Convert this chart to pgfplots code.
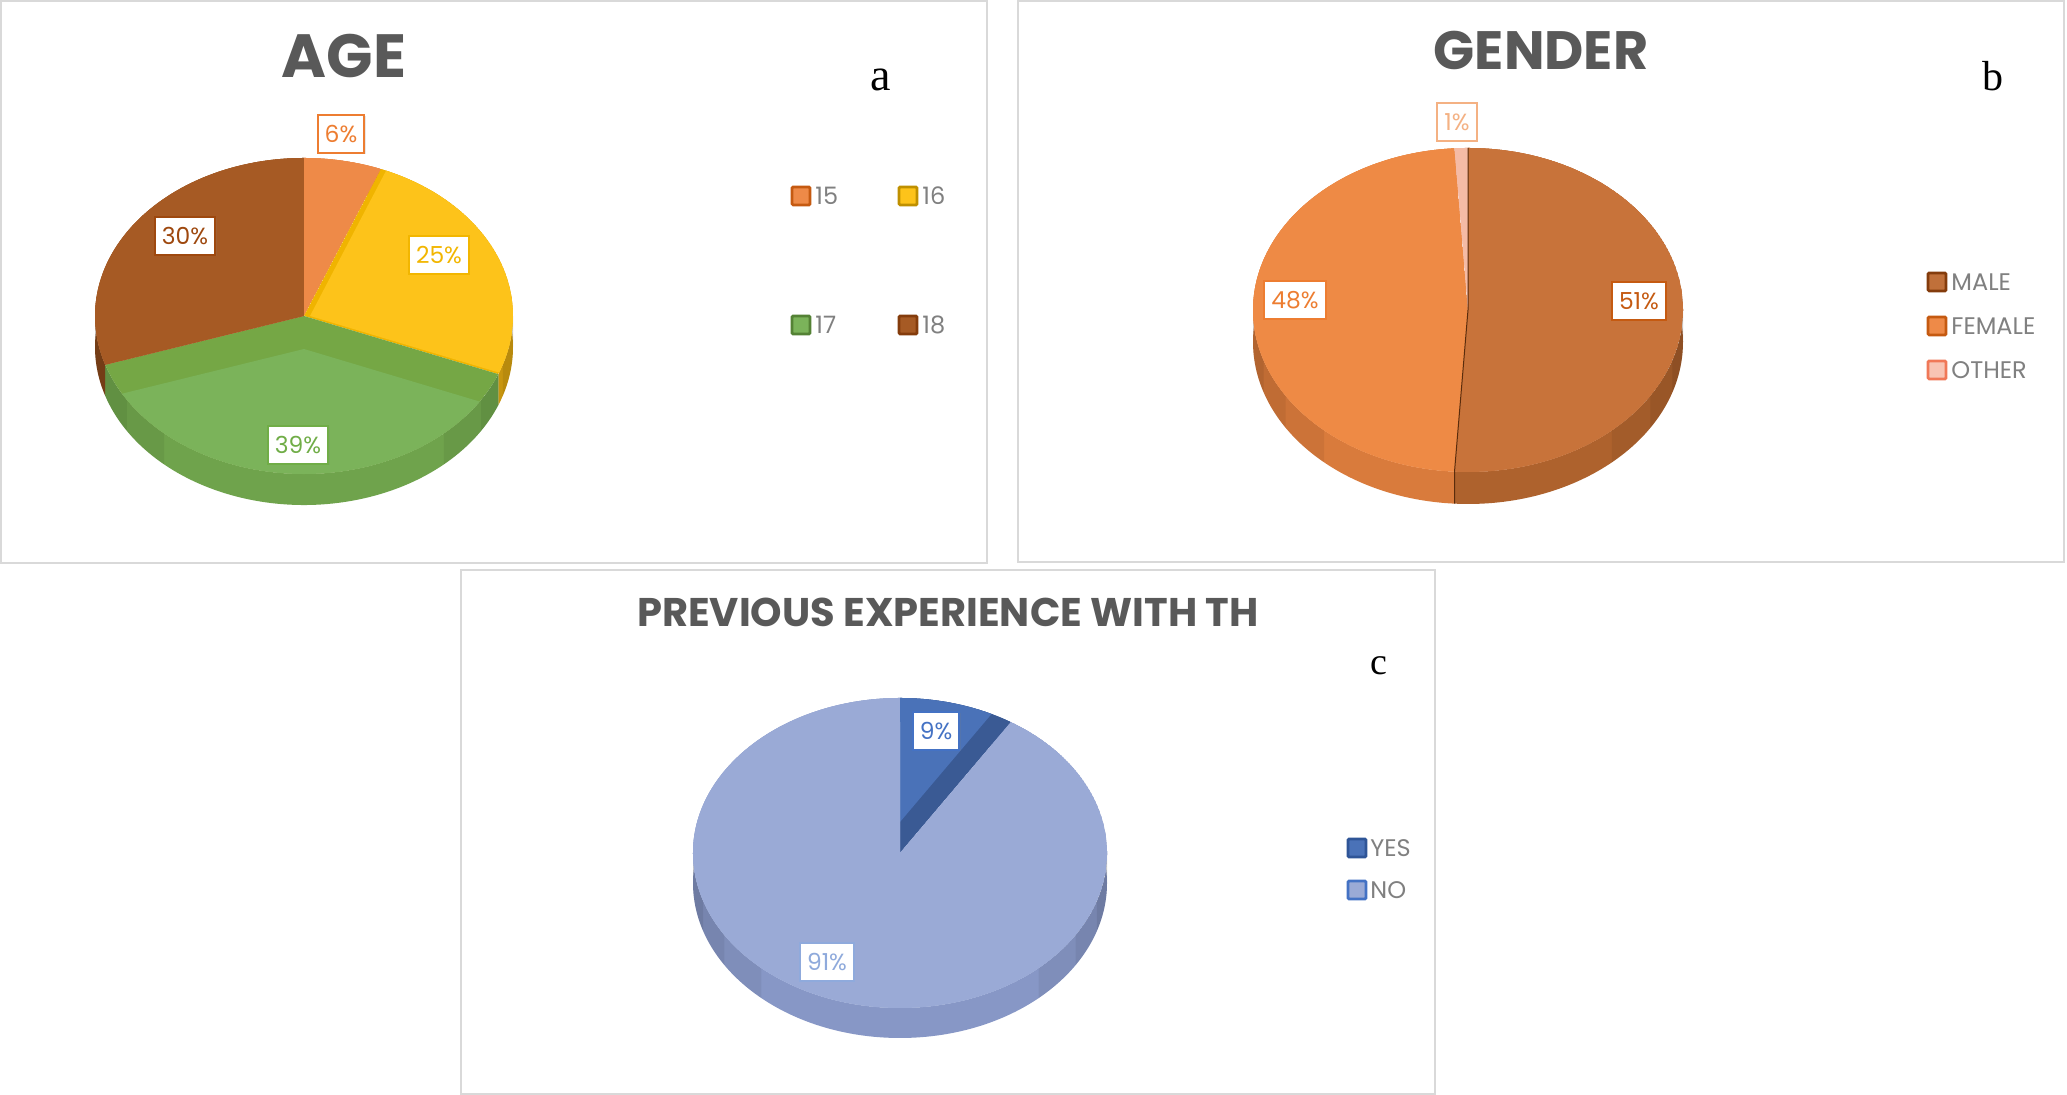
\documentclass[border=0pt]{standalone}
\usepackage{pgfplots}
\pgfplotsset{compat=1.18}
\usepackage{etoolbox}
\usepackage{fontspec}
\setmainfont{Poppins}
\newfontfamily\titlefont{Poppins}
\newfontfamily\seriffont{Liberation Serif}
\usetikzlibrary{shadows}

\definecolor{ttl}{HTML}{595959}
\definecolor{leg}{HTML}{808080}
\definecolor{frame}{HTML}{D9D9D9}
% panel a
\definecolor{aF1}{HTML}{EE8A48}\definecolor{aW1}{HTML}{D4763A}
\definecolor{aF2}{HTML}{FDC31A}\definecolor{aS2}{HTML}{F0B400}\definecolor{aW2}{HTML}{E2A912}
\definecolor{aF3}{HTML}{7BB35A}\definecolor{aS3}{HTML}{75A745}\definecolor{aW3}{HTML}{6FA34C}
\definecolor{aF4}{HTML}{A65A24}\definecolor{aW4}{HTML}{8E4C1C}
\definecolor{aL1}{HTML}{C55A11}\definecolor{aL2}{HTML}{BF9000}\definecolor{aL3}{HTML}{548235}\definecolor{aL4}{HTML}{843C0C}
\definecolor{aT1}{HTML}{ED7D31}\definecolor{aT2}{HTML}{F2B600}\definecolor{aT3}{HTML}{70AD47}\definecolor{aT4}{HTML}{9E480E}
% panel b
\definecolor{bF1}{HTML}{C8733A}\definecolor{bW1}{HTML}{AE622D}
\definecolor{bF2}{HTML}{EE8A45}\definecolor{bW2}{HTML}{D97B3C}
\definecolor{bF3}{HTML}{F5BBA5}\definecolor{bW3}{HTML}{E8AA90}
\definecolor{bL1}{HTML}{843C0C}\definecolor{bL2}{HTML}{C55A11}\definecolor{bL3}{HTML}{F07858}
\definecolor{bI1}{HTML}{C0703A}\definecolor{bI2}{HTML}{EE8A48}\definecolor{bI3}{HTML}{F8C4B4}
\definecolor{bT1}{HTML}{C55A11}\definecolor{bT2}{HTML}{ED7D31}\definecolor{bT3}{HTML}{F4B183}
\definecolor{bLine}{HTML}{5A2C0C}
% panel c
\definecolor{cF1}{HTML}{4A72B8}\definecolor{cS1}{HTML}{3A5A94}\definecolor{cW1}{HTML}{3F64A6}
\definecolor{cF2}{HTML}{9AAAD6}\definecolor{cW2}{HTML}{8797C6}
\definecolor{cL1}{HTML}{2F5597}\definecolor{cL2}{HTML}{4472C4}
\definecolor{cT1}{HTML}{4472C4}\definecolor{cT2}{HTML}{8FAADC}

\newcommand\pie{}%
% one darkening band of the wall between angles #6 and #7 with opacity #8
\newcommand\rim[8]{%
  \xappto\pie{\noexpand\fill[black, opacity=#8] ([shift={(#6:#3pt and #4pt)}]axis cs:#1,#2) arc[start angle=#6, end angle=#7, x radius=#3pt, y radius=#4pt] -- ++(0pt,-#5pt) arc[start angle=#7, end angle=#6, x radius=#3pt, y radius=#4pt] -- cycle;}}
% #1 cx, #2 cy (axis units), #3 rx, #4 ry, #5 depth (pt), #6 list value/face/strip/wall/xoff/yoff
\newcommand\buildpie[6]{%
  \gdef\cum{0}%
  \foreach \v/\fc/\sc/\wc/\ox/\oy in {#6}{%
    \pgfmathsetmacro\ta{90-3.6*\cum}%
    \pgfmathsetmacro\tb{90-3.6*(\cum+\v)}%
    \xappto\pie{\noexpand\fill[\wc] ([shift={(\ta:#3pt and #4pt)}]axis cs:#1,#2) arc[start angle=\ta, end angle=\tb, x radius=#3pt, y radius=#4pt] -- ++(0pt,-#5pt) arc[start angle=\tb, end angle=\ta, x radius=#3pt, y radius=#4pt] -- cycle;}%
    \pgfmathsetmacro\nc{\cum+\v}\xdef\cum{\nc}%
  }%
  \rim{#1}{#2}{#3}{#4}{#5}{180}{228}{0.06}%
  \rim{#1}{#2}{#3}{#4}{#5}{180}{212}{0.06}%
  \rim{#1}{#2}{#3}{#4}{#5}{180}{198}{0.07}%
  \rim{#1}{#2}{#3}{#4}{#5}{312}{360}{0.06}%
  \rim{#1}{#2}{#3}{#4}{#5}{328}{360}{0.06}%
  \rim{#1}{#2}{#3}{#4}{#5}{342}{360}{0.07}%
  \gdef\cum{0}%
  \foreach \v/\fc/\sc/\wc/\ox/\oy in {#6}{%
    \pgfmathsetmacro\ta{90-3.6*\cum}%
    \pgfmathsetmacro\tb{90-3.6*(\cum+\v)}%
    \xappto\pie{\noexpand\begin{scope}\noexpand\clip (axis cs:#1,#2) -- ([shift={(\ta:#3pt and #4pt)}]axis cs:#1,#2) arc[start angle=\ta, end angle=\tb, x radius=#3pt, y radius=#4pt] -- cycle;%
      \noexpand\fill[\sc] (axis cs:#1,#2) -- ([shift={(\ta:#3pt and #4pt)}]axis cs:#1,#2) arc[start angle=\ta, end angle=\tb, x radius=#3pt, y radius=#4pt] -- cycle;%
      \noexpand\fill[\fc] ([xshift=\ox pt, yshift=\oy pt]axis cs:#1,#2) -- ([xshift=\ox pt, yshift=\oy pt, shift={(\ta:#3pt and #4pt)}]axis cs:#1,#2) arc[start angle=\ta, end angle=\tb, x radius=#3pt, y radius=#4pt] -- cycle;%
      \noexpand\end{scope}}%
    \pgfmathsetmacro\nc{\cum+\v}\xdef\cum{\nc}%
  }%
}
% AGE: 15, 16, 17, 18
\buildpie{304}{779}{104.5}{79}{15.5}{6/aF1/aF1/aW1/0/0, 25/aF2/aS2/aW2/3/0, 39/aF3/aS3/aW3/0/-16.5, 30/aF4/aF4/aW4/0/0}%
% GENDER: MALE, FEMALE, OTHER
\buildpie{1468}{785}{107.5}{81}{16}{51/bF1/bF1/bW1/0/0, 48/bF2/bF2/bW2/0/0, 1/bF3/bF3/bW3/0/0}%
% PREVIOUS EXPERIENCE: YES, NO
\buildpie{900}{242}{103.5}{77.5}{15}{9/cF1/cS1/cW1/0/15.5, 91/cF2/cF2/cW2/0/0}%
\pgfmathsetmacro\bang{90-3.6*51}%
\xappto\pie{\noexpand\draw[bLine, line width=0.5pt] ([shift={(90:107.5pt and 81pt)}]axis cs:1468,785) -- (axis cs:1468,785) -- ([shift={(\bang:107.5pt and 81pt)}]axis cs:1468,785) -- ++(0pt,-16pt);}%

\tikzset{
  dl/.style={draw=#1, text=#1, fill=white, line width=0.9pt, inner xsep=3.5pt, inner ysep=0pt,
    minimum height=19pt, font=\fontsize{11.7}{12}\selectfont,
    drop shadow={opacity=0.18, shadow xshift=0.7pt, shadow yshift=-0.7pt}},
  lt/.style={anchor=west, text=leg, inner sep=0pt, font=\fontsize{12}{13}\selectfont},
}
\newcommand\legsq[4]{\filldraw[draw=#3, fill=#4, line width=1.4pt, rounded corners=0.6pt] (axis cs:#1-9,#2-9) rectangle (axis cs:#1+9,#2+9);}

\begin{document}
\begin{tikzpicture}
\begin{axis}[x=0.5pt, y=0.5pt, xmin=0, xmax=2067, ymin=0, ymax=1095,
  hide axis, scale only axis, clip=false]
\fill[white] (axis cs:0,0) rectangle (axis cs:2067,1095);
% frames
\draw[frame, line width=1pt] (axis cs:1,532) rectangle (axis cs:987,1094);
\draw[frame, line width=1pt] (axis cs:1018,533) rectangle (axis cs:2064,1094);
\draw[frame, line width=1pt] (axis cs:461,1) rectangle (axis cs:1435,525);
% pies
\pie
% titles
\node[text=ttl, font=\titlefont\bfseries\fontsize{30.5}{32}\selectfont] at (axis cs:344,1038.5) {AGE};
\node[text=ttl, font=\titlefont\bfseries\fontsize{27}{28}\selectfont] at (axis cs:1541,1045) {GENDER};
\node[text=ttl, font=\titlefont\bfseries\fontsize{20}{21}\selectfont] at (axis cs:948,483) {PREVIOUS EXPERIENCE WITH TH};
% panel letters
\node[font=\seriffont\fontsize{23}{24}\selectfont, inner sep=0pt] at (axis cs:881,1015) {a};
\node[font=\seriffont\fontsize{21}{22}\selectfont, inner sep=0pt] at (axis cs:1993,1018.5) {b};
\node[font=\seriffont\fontsize{19}{20}\selectfont, inner sep=0pt] at (axis cs:1379,429.5) {c};
% data labels
\node[dl=aT1] at (axis cs:341,961) {6\%};
\node[dl=aT2] at (axis cs:439,840) {25\%};
\node[dl=aT4] at (axis cs:185,859) {30\%};
\node[dl=aT3] at (axis cs:298,650) {39\%};
\node[dl=bT3] at (axis cs:1457,973) {1\%};
\node[dl=bT2] at (axis cs:1295,795) {48\%};
\node[dl=bT1] at (axis cs:1639,794) {51\%};
\node[dl=cT1] at (axis cs:936,364) {9\%};
\node[dl=cT2] at (axis cs:827,133) {91\%};
% legends
\legsq{801}{899}{aL1}{aF1} \node[lt] at (axis cs:815,899) {15};
\legsq{908}{899}{aL2}{aF2} \node[lt] at (axis cs:922,899) {16};
\legsq{801}{770}{aL3}{aF3} \node[lt] at (axis cs:815,770) {17};
\legsq{908}{770}{aL4}{aF4} \node[lt] at (axis cs:922,770) {18};
\legsq{1937}{813}{bL1}{bI1} \node[lt] at (axis cs:1951,813) {MALE};
\legsq{1937}{769}{bL2}{bI2} \node[lt] at (axis cs:1951,769) {FEMALE};
\legsq{1937}{725}{bL3}{bI3} \node[lt] at (axis cs:1951,725) {OTHER};
\legsq{1357}{247}{cL1}{cF1} \node[lt] at (axis cs:1370,247) {YES};
\legsq{1357}{205}{cL2}{cF2} \node[lt] at (axis cs:1370,205) {NO};
\end{axis}
\end{tikzpicture}
\end{document}
